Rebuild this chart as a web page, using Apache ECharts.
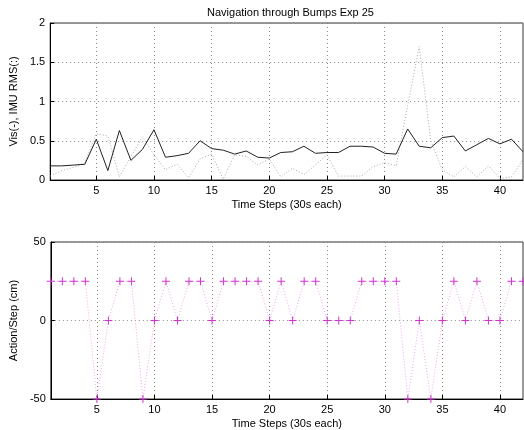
<!DOCTYPE html>
<html><head><meta charset="utf-8">
<script src="https://cdn.jsdelivr.net/npm/echarts@6/dist/echarts.min.js"></script>
<style>html,body{margin:0;padding:0;background:#fff}#c{width:524px;height:430px}</style>
</head><body><div id="c"></div>
<script>
const steps = [];
for (let i = 1; i <= 42; i++) steps.push(i);
const visSolid = [0.18,0.18,0.19,0.20,0.52,0.12,0.63,0.25,0.39,0.64,0.29,0.31,0.34,0.50,0.40,0.38,0.33,0.37,0.29,0.28,0.35,0.36,0.43,0.34,0.35,0.35,0.43,0.43,0.42,0.34,0.33,0.65,0.43,0.41,0.54,0.56,0.37,0.45,0.53,0.46,0.52,0.36];
const imuDotted = [0.05,0.12,0.16,0.22,0.59,0.56,0.04,0.30,0.55,0.32,0.13,0.20,0.03,0.27,0.33,0.01,0.32,0.30,0.19,0.27,0.04,0.15,0.07,0.19,0.32,0.05,0.05,0.05,0.17,0.22,0.18,0.95,1.70,0.50,0.13,0.04,0.17,0.04,0.18,0.02,0.04,0.26];
const actionSteps = [25,25,25,25,-50,0,25,25,-50,0,25,0,25,25,0,25,25,25,25,0,25,0,25,25,0,0,0,25,25,25,25,-50,0,-50,0,25,0,25,0,0,25,25];
const xTicks = [5,10,15,20,25,30,35,40];
const topYTicks = [0,0.5,1,1.5,2];
const botYTicks = [-50,0,50];

const pair = arr => steps.map((s, i) => [s, arr[i]]);
const font = 'Liberation Sans, Arial, sans-serif';
const txt = {fontFamily: font, fontSize: 11, color: '#000'};

function xAxis(gi) {
  return {
    type: 'value', gridIndex: gi, min: 1, max: 42,
    name: 'Time Steps (30s each)', nameLocation: 'middle', nameGap: 19,
    nameTextStyle: txt,
    axisLine: {show: true, onZero: false, lineStyle: {color: '#000', width: 1}},
    axisTick: {show: true, inside: true, length: 4, customValues: xTicks, lineStyle: {color: '#000'}},
    axisLabel: Object.assign({customValues: xTicks, margin: 5}, txt),
    splitLine: {show: true, lineStyle: {type: [1, 3], color: '#888', width: 1}}
  };
}
function yAxis(gi, name, min, max, interval) {
  return {
    type: 'value', gridIndex: gi, min: min, max: max, interval: interval,
    name: name, nameLocation: 'middle', nameGap: 31, nameRotate: 90,
    nameTextStyle: txt,
    axisLine: {show: true, lineStyle: {color: '#000', width: 1}},
    axisTick: {show: true, inside: true, length: 4, lineStyle: {color: '#000'}},
    axisLabel: Object.assign({margin: 5, formatter: v => String(v)}, txt),
    splitLine: {show: true, lineStyle: {type: [1, 3], color: '#888', width: 1}}
  };
}

const chart = echarts.init(document.getElementById('c'), null, {renderer: 'canvas'});
chart.setOption({
  animation: false,
  backgroundColor: '#fff',
  title: {text: 'Navigation through Bumps Exp 25', left: 285.5, textAlign: 'center', top: 2,
    textStyle: {fontFamily: font, fontSize: 11, fontWeight: 'normal', color: '#000'}},
  grid: [
    {left: 48, right: 1, top: 23, height: 157, show: true, borderColor: '#333', borderWidth: 1},
    {left: 48, right: 1, top: 242, height: 157, show: true, borderColor: '#333', borderWidth: 1}
  ],
  xAxis: [xAxis(0), xAxis(1)],
  yAxis: [
    yAxis(0, 'Vis(-), IMU RMS(:)', 0, 2, 0.5),
    yAxis(1, 'Action/Step (cm)', -50, 50, 50)
  ],
  series: [
    {type: 'line', xAxisIndex: 0, yAxisIndex: 0, data: pair(visSolid), symbol: 'none',
      lineStyle: {color: '#222', width: 1}, z: 3},
    {type: 'line', xAxisIndex: 0, yAxisIndex: 0, data: pair(imuDotted), symbol: 'none',
      lineStyle: {color: '#a8a8a8', width: 1, type: [1, 2]}, z: 2},
    {type: 'line', xAxisIndex: 1, yAxisIndex: 1, data: pair(actionSteps),
      symbol: 'path://M5,0 L5,10 M0,5 L10,5', symbolSize: 8, showAllSymbol: true,
      itemStyle: {color: 'none', borderColor: '#d035d0', borderWidth: 1},
      lineStyle: {color: '#e8a8e8', width: 1, type: [1, 2]}, z: 3}
  ]
});
</script></body></html>
